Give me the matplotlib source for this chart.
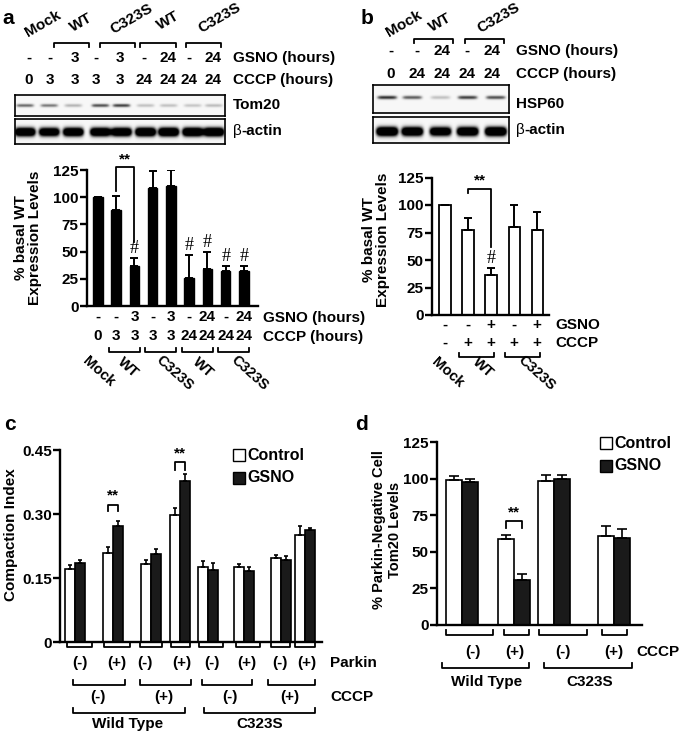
import matplotlib
matplotlib.use('Agg')
import matplotlib.pyplot as plt
import numpy as np
from matplotlib import transforms as mtrans
from matplotlib.patches import Rectangle

plt.rcParams['font.family'] = ['Liberation Sans', 'DejaVu Sans']
plt.rcParams['font.weight'] = 'bold'

# ---- data ----
# panel a: Tom20 levels (% basal WT)
a_vals = [100, 88, 37, 108, 110, 26, 34, 32, 32]
a_err = [0, 13, 7, 16, 15, 21, 16, 5, 5]
a_gsno = ['-', '-', '3', '-', '3', '-', '24', '-', '24']
a_cccp = ['0', '3', '3', '3', '3', '24', '24', '24', '24']
a_hash = [2, 5, 6, 7, 8]
a_groups = ['Mock', 'WT', 'C323S', 'WT', 'C323S']
tom20_bands = [0.6, 0.55, 0.35, 0.7, 0.75, 0.3, 0.3, 0.28, 0.32]
actin_a_bands = [1.6, 1.5, 1.6, 1.6, 1.6, 1.7, 1.7, 1.7, 1.7]

# panel b: HSP60 levels (% basal WT)
b_vals = [100, 77, 36, 80, 77]
b_err = [0, 11, 7, 20, 17]
b_gsno = ['-', '-', '+', '-', '+']
b_cccp = ['-', '+', '+', '+', '+']
b_gsno_top = ['-', '-', '24', '-', '24']
b_cccp_top = ['0', '24', '24', '24', '24']
b_groups = ['Mock', 'WT', 'C323S']
hsp60_bands = [0.8, 0.65, 0.3, 0.75, 0.7]
actin_b_bands = [1.7, 1.6, 1.5, 1.6, 1.7]

# panel c: compaction index
c_ctrl = [0.172, 0.209, 0.182, 0.298, 0.175, 0.175, 0.196, 0.250]
c_ctrl_err = [0.008, 0.013, 0.010, 0.015, 0.015, 0.008, 0.009, 0.023]
c_gsno = [0.185, 0.271, 0.207, 0.377, 0.168, 0.167, 0.192, 0.262]
c_gsno_err = [0.007, 0.012, 0.011, 0.017, 0.016, 0.008, 0.010, 0.006]
c_parkin = ['(-)', '(+)'] * 4
c_cccp = ['(-)', '(+)', '(-)', '(+)']

# panel d: Parkin-negative cell Tom20 levels
d_ctrl = [99, 59, 98.6, 61]
d_ctrl_err = [3, 2.7, 3.7, 6.4]
d_gsno = [97.5, 31, 99.8, 59.5]
d_gsno_err = [2, 4, 2.5, 6.4]
d_cccp = ['(-)', '(+)', '(-)', '(+)']
strains = ['Wild Type', 'C323S']

# ---- layout (pixels) ----
W, H = 685, 736
fig = plt.figure(figsize=(6.85, 7.36), dpi=100)


def px_axes(x0, y0, x1, y1):
    return fig.add_axes([x0 / W, 1 - y1 / H, (x1 - x0) / W, (y1 - y0) / H])


ov = fig.add_axes([0, 0, 1, 1])
ov.set_xlim(0, W)
ov.set_ylim(H, 0)
ov.axis('off')
ov.patch.set_facecolor('none')
ov.set_zorder(10)

FS = 11


def bracket(x0, x1, y, leg, tr=None, lw=1.3):
    ov.plot([x0, x0, x1, x1], [y + leg, y, y, y + leg], color='black', lw=lw,
            transform=tr if tr is not None else ov.transData, clip_on=False)


def style(ax, ticks, labels=None):
    for s in ['top', 'right']:
        ax.spines[s].set_visible(False)
    for s in ['left', 'bottom']:
        ax.spines[s].set_linewidth(1.7)
    ax.set_xticks([])
    ax.set_yticks(ticks)
    if labels is not None:
        ax.set_yticklabels(labels)
    ax.tick_params(axis='y', width=1.7, length=5, pad=1, labelsize=FS)
    for t in ax.get_yticklabels():
        t.set_fontweight('bold')


def blot(x0, y0, x1, y1, lanes, bands, yc, hw, hh):
    ax = px_axes(x0, y0, x1, y1)
    xs = np.linspace(x0, x1, (x1 - x0) * 4)
    ys = np.linspace(y0, y1, (y1 - y0) * 4)
    X, Y = np.meshgrid(xs, ys)
    img = np.full(X.shape, 0.06)
    for lx, b in zip(lanes, bands):
        img += b * np.exp(-((X - lx) / hw) ** 6) * np.exp(-((Y - yc) / hh) ** 2)
    ax.imshow(np.clip(img, 0, 1), cmap='Greys', vmin=0, vmax=1, aspect='auto',
              extent=(x0, x1, y1, y0), interpolation='bilinear')
    ax.set_xticks([])
    ax.set_yticks([])
    for s in ax.spines.values():
        s.set_linewidth(1.2)
    return ax


# ================= panel a =================
ov.text(8, 18, 'a', fontsize=15, ha='center', va='center')
a_lane_px = [29, 50, 75, 96, 120, 144, 168, 189, 213]
for (x, y), g in zip([(43, 24), (81, 23), (132, 19), (168, 21), (220, 18)], a_groups):
    ov.text(x, y, g, rotation=30, ha='center', va='center', fontsize=FS)
for x0, x1 in [(54, 89), (100, 135), (140, 176), (186, 221)]:
    bracket(x0, x1, 43, 4)
for x, g, c in zip(a_lane_px, a_gsno, a_cccp):
    ov.text(x, 58, g, ha='center', va='center', fontsize=FS)
    ov.text(x, 80, c, ha='center', va='center', fontsize=FS)
ov.text(233, 58, 'GSNO (hours)', ha='left', va='center', fontsize=FS)
ov.text(233, 80, 'CCCP (hours)', ha='left', va='center', fontsize=FS)
blot(15, 95, 225, 116, [25, 49, 73, 100, 121, 145, 168, 192, 213], tom20_bands, 105.5, 9, 1.8)
blot(15, 119, 225, 144, [25, 49, 73, 100, 121, 145, 168, 192, 213], actin_a_bands, 132, 10.5, 4.6)
ov.text(233, 105, 'Tom20', ha='left', va='center', fontsize=FS)
ov.text(233, 131, 'β', ha='left', va='center', fontsize=FS, fontweight='normal')
ov.text(241, 131, '-actin', ha='left', va='center', fontsize=FS)

axa = px_axes(87, 170, 258, 306)
xa = np.arange(len(a_vals))
axa.bar(xa, a_vals, width=0.52, color='black', edgecolor='black')
axa.errorbar(xa, a_vals, yerr=[np.zeros(len(a_err)), a_err], fmt='none',
             ecolor='black', elinewidth=1.4, capsize=3, capthick=1.4)
axa.set_xlim(-0.6, 8.77)
axa.set_ylim(0, 125)
style(axa, [0, 25, 50, 75, 100, 125])
for i in a_hash:
    axa.text(xa[i], a_vals[i] + a_err[i] + 1, '#', ha='center', va='bottom',
             fontsize=13, family='Liberation Serif', fontweight='normal')
axa.plot([1, 1, 2, 2], [106, 127.5, 127.5, 59], color='black', lw=1.3, clip_on=False)
axa.text(1.5, 128, '**', ha='center', va='bottom', fontsize=FS)
ov.text(28, 238, '% basal WT\nExpression Levels', rotation=90, ha='center',
        va='center', fontsize=FS, multialignment='center', linespacing=1.05)
tra = mtrans.blended_transform_factory(axa.transData, ov.transData)
for x, g, c in zip(xa, a_gsno, a_cccp):
    ov.text(x, 317, g, ha='center', va='center', fontsize=FS, transform=tra)
    ov.text(x, 336, c, ha='center', va='center', fontsize=FS, transform=tra)
ov.text(263, 318, 'GSNO (hours)', ha='left', va='center', fontsize=FS)
ov.text(263, 337, 'CCCP (hours)', ha='left', va='center', fontsize=FS)
for i0, i1 in [(1, 2), (3, 4), (5, 6), (7, 8)]:
    bracket(xa[i0] - 0.42, xa[i1] + 0.3, 352, -4, tr=tra)
for (x, y), g in zip([(99, 372), (128, 368), (175, 373), (203, 368), (250, 373)], a_groups):
    ov.text(x, y, g, rotation=-42, ha='center', va='center', fontsize=10.5)

# ================= panel b =================
ov.text(367, 18, 'b', fontsize=15, ha='center', va='center')
b_lane_px = [391, 417, 442, 467, 492]
for (x, y), g in zip([(404, 24), (440, 23), (499, 18)], b_groups):
    ov.text(x, y, g, rotation=30, ha='center', va='center', fontsize=FS)
for x0, x1 in [(414, 453), (465, 504)]:
    bracket(x0, x1, 39, 4)
for x, g, c in zip(b_lane_px, b_gsno_top, b_cccp_top):
    ov.text(x, 51, g, ha='center', va='center', fontsize=FS)
    ov.text(x, 74, c, ha='center', va='center', fontsize=FS)
ov.text(516, 51, 'GSNO (hours)', ha='left', va='center', fontsize=FS)
ov.text(516, 74, 'CCCP (hours)', ha='left', va='center', fontsize=FS)
blot(373, 85, 509, 113, [387, 412, 440, 467, 495], hsp60_bands, 98, 10, 1.9)
blot(373, 117, 509, 143, [387, 412, 440, 467, 495], actin_b_bands, 131.5, 11, 4.8)
ov.text(516, 104, 'HSP60', ha='left', va='center', fontsize=FS)
ov.text(516, 130, 'β', ha='left', va='center', fontsize=FS, fontweight='normal')
ov.text(524, 130, '-actin', ha='left', va='center', fontsize=FS)

axb = px_axes(432, 177.5, 549, 315)
xb = np.arange(len(b_vals))
axb.bar(xb, b_vals, width=0.48, color='white', edgecolor='black', linewidth=1.3)
axb.errorbar(xb, b_vals, yerr=[np.zeros(len(b_err)), b_err], fmt='none',
             ecolor='black', elinewidth=1.4, capsize=3, capthick=1.4)
axb.set_xlim(-0.565, 4.52)
axb.set_ylim(0, 125)
style(axb, [0, 25, 50, 75, 100, 125])
axb.text(xb[2], b_vals[2] + b_err[2] + 1, '#', ha='center', va='bottom',
         fontsize=13, family='Liberation Serif', fontweight='normal')
axb.plot([1, 1, 2, 2], [111, 115, 115, 62], color='black', lw=1.3, clip_on=False)
axb.text(1.5, 116, '**', ha='center', va='bottom', fontsize=FS)
ov.text(376, 240, '% basal WT\nExpression Levels', rotation=90, ha='center',
        va='center', fontsize=FS, multialignment='center', linespacing=1.05)
trb = mtrans.blended_transform_factory(axb.transData, ov.transData)
for x, g, c in zip(xb, b_gsno, b_cccp):
    ov.text(x, 325, g, ha='center', va='center', fontsize=FS, transform=trb)
    ov.text(x, 343, c, ha='center', va='center', fontsize=FS, transform=trb)
ov.text(555, 325, 'GSNO', ha='left', va='center', fontsize=FS)
ov.text(555, 343, 'CCCP', ha='left', va='center', fontsize=FS)
for i0, i1 in [(1, 2), (3, 4)]:
    bracket(xb[i0] - 0.4, xb[i1] + 0.15, 357, -4, tr=trb)
for (x, y), g in zip([(448, 373), (483, 368), (537, 373)], b_groups):
    ov.text(x, y, g, rotation=-42, ha='center', va='center', fontsize=10.5)

# ================= panel c =================
ov.text(10, 425, 'c', fontsize=15, ha='center', va='center')
axc = px_axes(60, 450, 322, 642)
cx = np.array([74.5, 113, 150.5, 180, 208, 244, 281, 305])
bw = 10
axc.bar(cx - bw / 2, c_ctrl, width=bw, color='white', edgecolor='black', linewidth=1.2)
axc.bar(cx + bw / 2, c_gsno, width=bw, color='#1a1a1a', edgecolor='black', linewidth=1.2)
axc.errorbar(cx - bw / 2, c_ctrl, yerr=[np.zeros(8), c_ctrl_err], fmt='none',
             ecolor='black', elinewidth=1.2, capsize=1.6, capthick=1.2)
axc.errorbar(cx + bw / 2, c_gsno, yerr=[np.zeros(8), c_gsno_err], fmt='none',
             ecolor='black', elinewidth=1.2, capsize=1.6, capthick=1.2)
axc.set_xlim(60, 322)
axc.set_ylim(0, 0.45)
style(axc, [0, 0.15, 0.30, 0.45], ['0', '0.15', '0.30', '0.45'])
for i, (top, leg) in zip([1, 3], [(0.322, 0.306), (0.421, 0.402)]):
    axc.plot([cx[i] - bw / 2, cx[i] - bw / 2, cx[i] + bw / 2, cx[i] + bw / 2],
             [leg, top, top, leg], color='black', lw=1.3, clip_on=False)
    axc.text(cx[i], top + 0.004, '**', ha='center', va='bottom', fontsize=FS)
ov.text(11, 535, 'Compaction Index', rotation=90, ha='center', va='center', fontsize=FS)
ov.add_patch(Rectangle((233, 449), 12, 12, facecolor='white', edgecolor='black', lw=1))
ov.add_patch(Rectangle((233, 472), 12, 12, facecolor='#1a1a1a', edgecolor='black', lw=1))
ov.text(247, 455, 'Control', ha='left', va='center', fontsize=11.5)
ov.text(247, 478, 'GSNO', ha='left', va='center', fontsize=11.5)
for (x0, x1), lx, lab in zip([(67, 92), (104, 130), (140, 162), (171, 190),
                              (199, 223), (236, 260), (271, 290), (295, 315)],
                             [80, 117, 145, 182, 212, 247, 280, 307], c_parkin):
    bracket(x0, x1, 647, -5)
    ov.text(lx, 663, lab, ha='center', va='center', fontsize=FS)
ov.text(330, 663, 'Parkin', ha='left', va='center', fontsize=FS)
for (x0, x1), lx, lab in zip([(73, 125), (140, 191), (202, 252), (268, 315)],
                             [98, 164, 230, 290], c_cccp):
    bracket(x0, x1, 685, -5)
    ov.text(lx, 697, lab, ha='center', va='center', fontsize=FS)
ov.text(330, 697, 'CCCP', ha='left', va='center', fontsize=FS)
for (x0, x1), lx, lab in zip([(73, 185), (204, 315)], [128, 260], strains):
    bracket(x0, x1, 713, -5)
    ov.text(lx, 724, lab, ha='center', va='center', fontsize=FS)

# ================= panel d =================
ov.text(362, 425, 'd', fontsize=15, ha='center', va='center')
axd = px_axes(437, 442, 642, 625)
dx = np.array([462, 514, 553.5, 614])
dw = 16
axd.bar(dx - dw / 2, d_ctrl, width=dw, color='white', edgecolor='black', linewidth=1.2)
axd.bar(dx + dw / 2, d_gsno, width=dw, color='#1a1a1a', edgecolor='black', linewidth=1.2)
axd.errorbar(dx - dw / 2, d_ctrl, yerr=[np.zeros(4), d_ctrl_err], fmt='none',
             ecolor='black', elinewidth=1.2, capsize=3.5, capthick=1.2)
axd.errorbar(dx + dw / 2, d_gsno, yerr=[np.zeros(4), d_gsno_err], fmt='none',
             ecolor='black', elinewidth=1.2, capsize=3.5, capthick=1.2)
axd.set_xlim(437, 642)
axd.set_ylim(0, 125)
style(axd, [0, 25, 50, 75, 100, 125])
axd.plot([dx[1] - dw / 2, dx[1] - dw / 2, dx[1] + dw / 2, dx[1] + dw / 2],
         [66.5, 71, 71, 66.5], color='black', lw=1.3, clip_on=False)
axd.text(dx[1], 72, '**', ha='center', va='bottom', fontsize=FS)
ov.text(387, 530, '% Parkin-Negative Cell\nTom20 Levels', rotation=90, ha='center',
        va='center', fontsize=10.5, multialignment='center', linespacing=1.1)
ov.add_patch(Rectangle((600, 437), 12, 12, facecolor='white', edgecolor='black', lw=1))
ov.add_patch(Rectangle((600, 460), 12, 12, facecolor='#1a1a1a', edgecolor='black', lw=1))
ov.text(614, 443, 'Control', ha='left', va='center', fontsize=11.5)
ov.text(614, 466, 'GSNO', ha='left', va='center', fontsize=11.5)
for (x0, x1), lx, lab in zip([(446, 493), (504, 529), (539, 587), (602, 627)],
                             [473, 515, 563, 614], d_cccp):
    bracket(x0, x1, 635, -5)
    ov.text(lx, 652, lab, ha='center', va='center', fontsize=FS)
ov.text(636, 652, 'CCCP', ha='left', va='center', fontsize=FS)
for (x0, x1), lx, lab in zip([(442, 529), (544, 632)], [487, 590], strains):
    bracket(x0, x1, 668, -5)
    ov.text(lx, 682, lab, ha='center', va='center', fontsize=FS)

fig.savefig('out.png', dpi=100)
